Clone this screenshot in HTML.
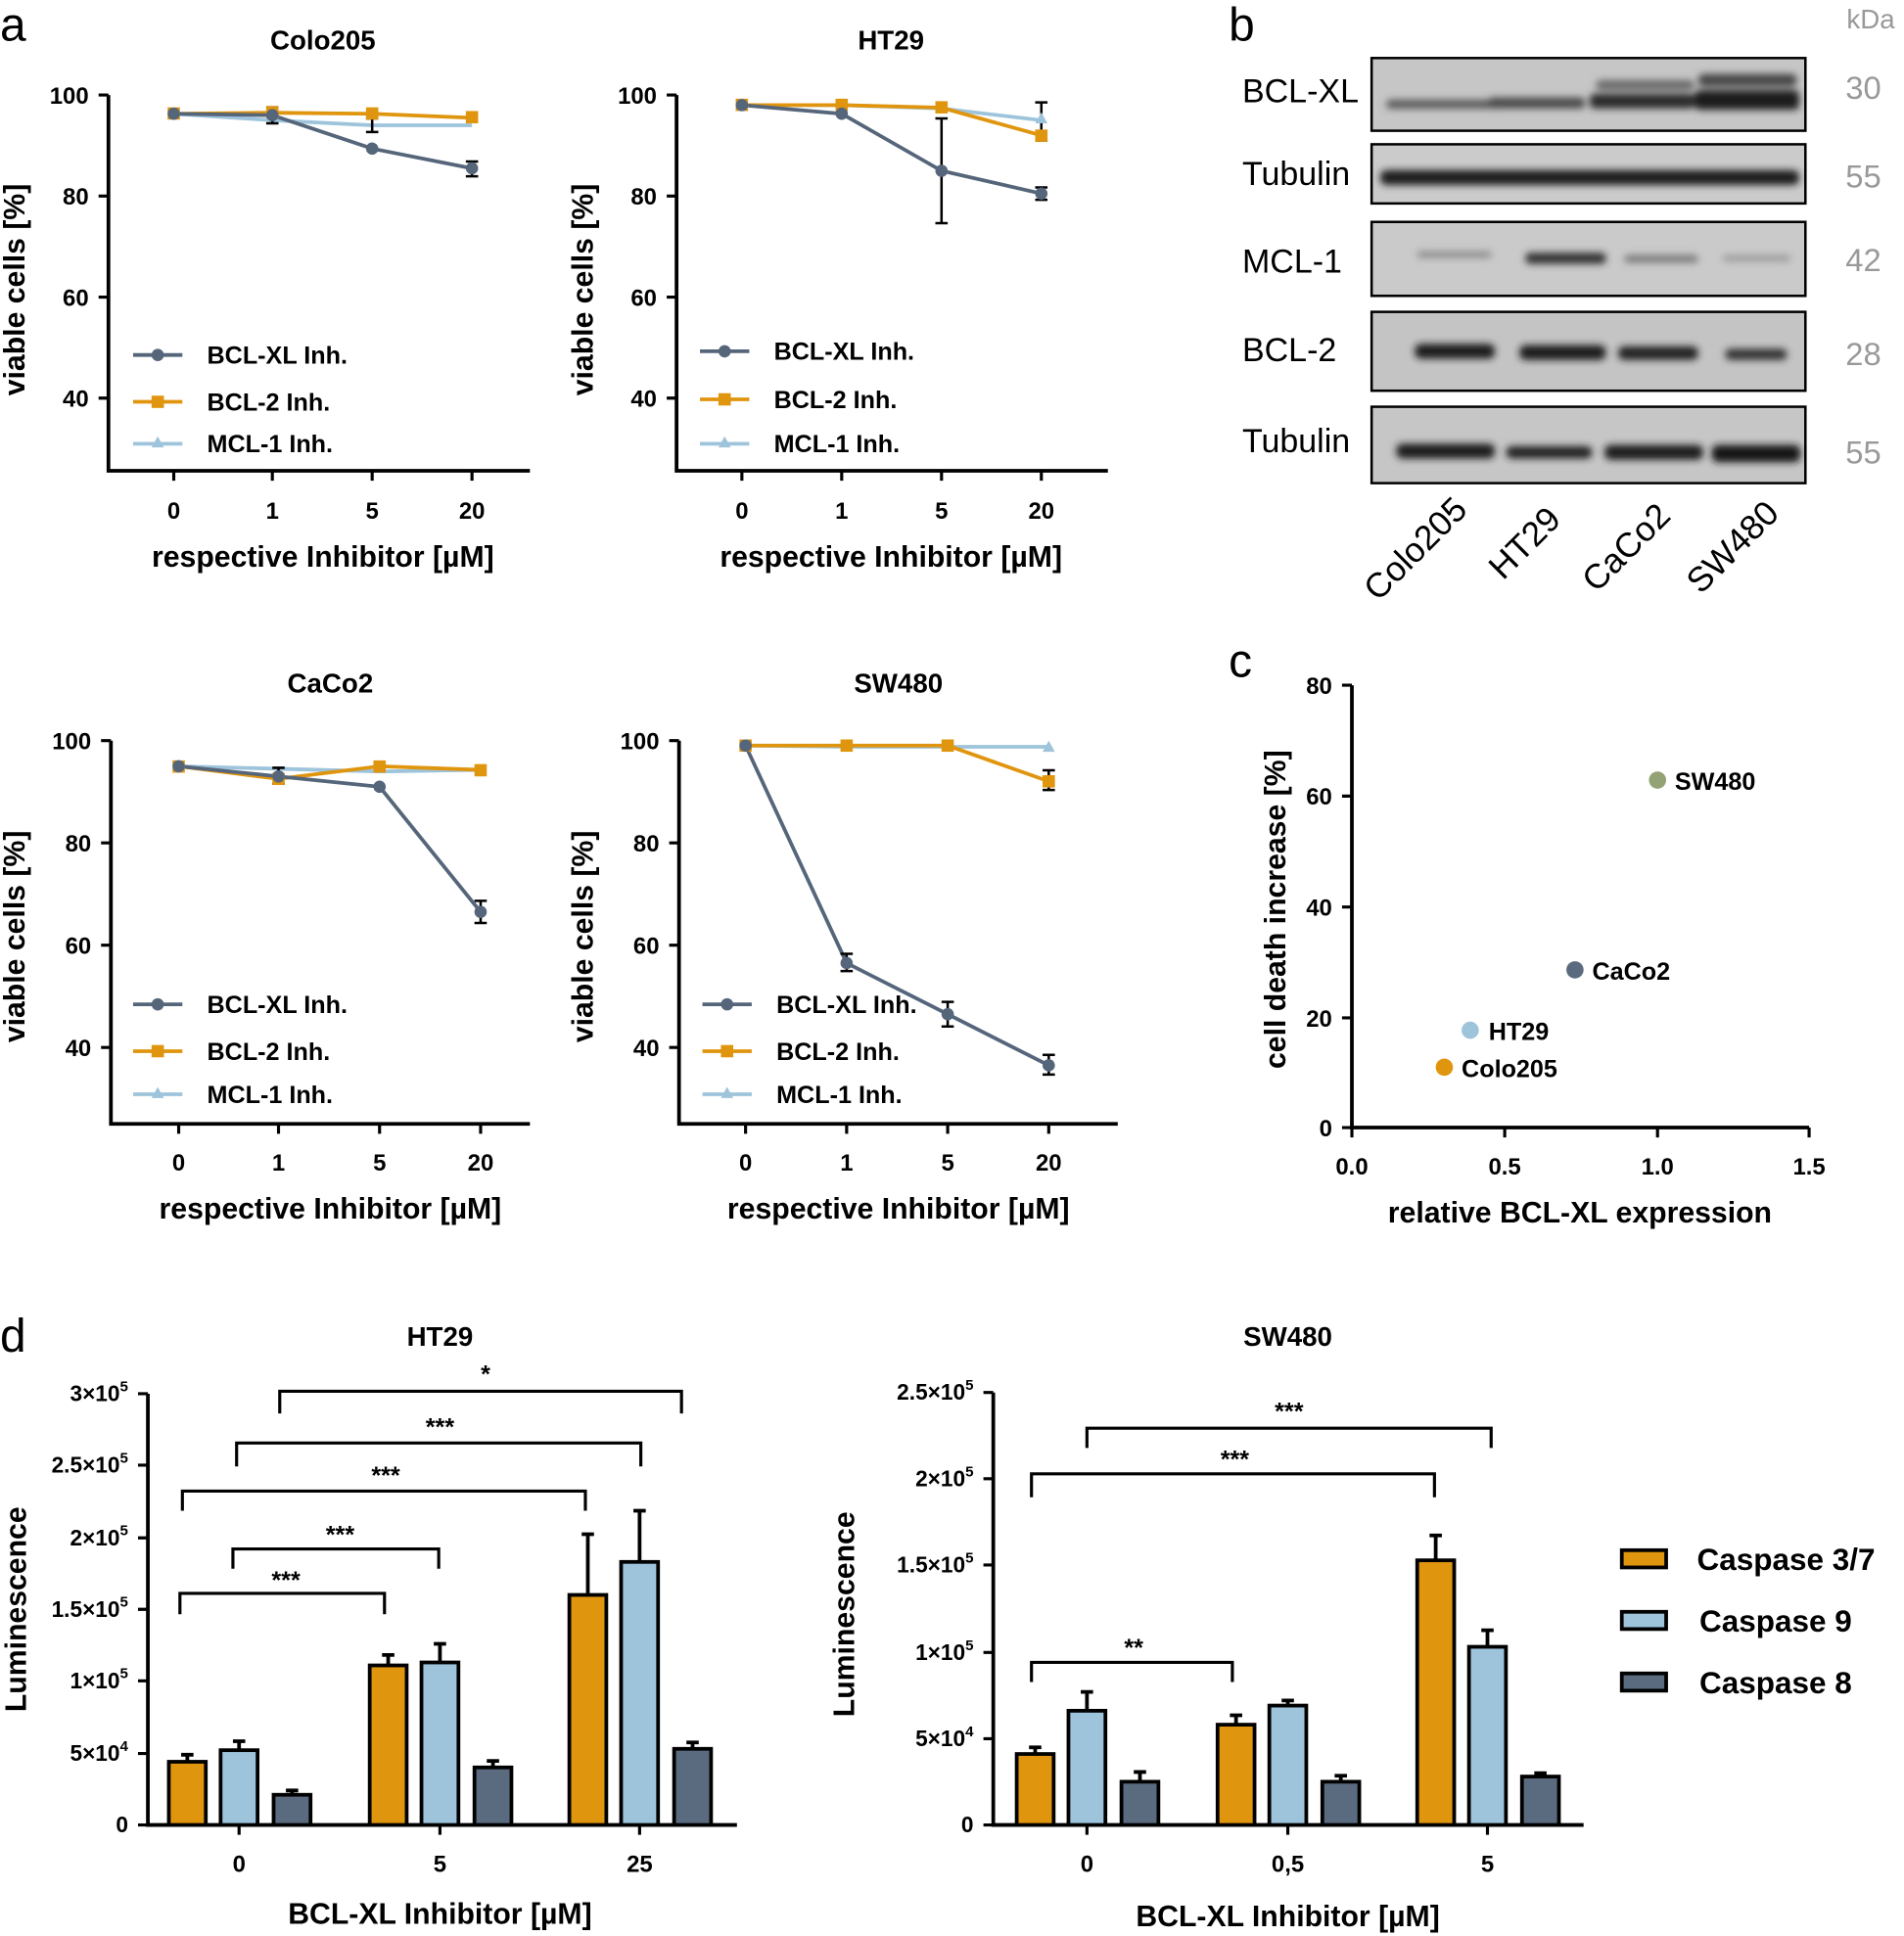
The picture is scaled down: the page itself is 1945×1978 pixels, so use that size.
<!DOCTYPE html>
<html><head><meta charset="utf-8"><style>
html,body{margin:0;padding:0;background:#fff}
svg{display:block}
text{font-family:"Liberation Sans",Arial,sans-serif}
.b{font-weight:bold}
</style></head><body>
<svg width="1945" height="1978" viewBox="0 0 1545 1571" xmlns="http://www.w3.org/2000/svg">
<defs>
<filter id="bl" x="-20%" y="-100%" width="140%" height="300%"><feGaussianBlur stdDeviation="3"/></filter>
</defs>
<g font-size="20" fill="#000">
<text x="0" y="33" font-size="38">a</text>
<text x="997" y="33" font-size="38">b</text>
<text x="997" y="549" font-size="38">c</text>
<text x="0" y="1097" font-size="38">d</text>
</g>

<!-- ========== Colo205 ========== -->
<g>
<text x="262" y="40" font-size="22" class="b" text-anchor="middle">Colo205</text>
<path d="M88 77V382H430" fill="none" stroke="#000" stroke-width="3"/>
<path d="M80 77H88M80 159H88M80 241H88M80 323H88M141 382v8M221 382v8M302 382v8M383 382v8" stroke="#000" stroke-width="2.5"/>
<g font-size="19" class="b" text-anchor="end"><text x="72" y="84">100</text><text x="72" y="166">80</text><text x="72" y="248">60</text><text x="72" y="330">40</text></g>
<g font-size="19" class="b" text-anchor="middle"><text x="141" y="421">0</text><text x="221" y="421">1</text><text x="302" y="421">5</text><text x="383" y="421">20</text></g>
<text x="262" y="460" font-size="24" class="b" text-anchor="middle">respective Inhibitor [µM]</text>
<text transform="translate(20,235) rotate(-90)" font-size="24" class="b" text-anchor="middle">viable cells [%]</text>
<polyline points="141,92.2 221,97.5 302,101.6 383,101.6" fill="none" stroke="#9ec4dc" stroke-width="3"/>
<polyline points="141,92.2 221,91.4 302,92.2 383,95.5" fill="none" stroke="#e0950f" stroke-width="3"/>
<polyline points="141,92.2 221,93.4 302,120.5 383,136.5" fill="none" stroke="#55657a" stroke-width="3"/>
<path d="M221 87v13M216 87h10M216 100h10M302 96v11M297 96h10M297 107h10M383 131v12M378 131h10M378 143h10" stroke="#000" stroke-width="2"/>
<g fill="#e0950f"><rect x="136" y="87" width="10" height="10"/><rect x="216" y="86" width="10" height="10"/><rect x="297" y="87" width="10" height="10"/><rect x="378" y="90" width="10" height="10"/></g>
<g fill="#55657a"><circle cx="141" cy="92.2" r="5"/><circle cx="221" cy="93.4" r="5"/><circle cx="302" cy="120.5" r="5"/><circle cx="383" cy="136.5" r="5"/></g>
<path d="M108 288h40" stroke-width="3" stroke="#55657a"/>
<path d="M108 326h40" stroke-width="3" stroke="#e0950f"/><path d="M108 360h40" stroke-width="3" stroke="#9ec4dc"/>
<circle cx="128" cy="288" r="5" fill="#55657a"/><rect x="123" y="321" width="10" height="10" fill="#e0950f"/><path d="M128 354l5 9h-10z" fill="#9ec4dc"/>
<g font-size="20" class="b"><text x="168" y="295">BCL-XL Inh.</text><text x="168" y="333">BCL-2 Inh.</text><text x="168" y="367">MCL-1 Inh.</text></g>
</g>

<!-- ========== HT29 ========== -->
<g>
<text x="723" y="40" font-size="22" class="b" text-anchor="middle">HT29</text>
<path d="M549 77V382H899" fill="none" stroke="#000" stroke-width="3"/>
<path d="M541 77H549M541 159H549M541 241H549M541 323H549M602 382v8M683 382v8M764 382v8M845 382v8" stroke="#000" stroke-width="2.5"/>
<g font-size="19" class="b" text-anchor="end"><text x="533" y="84">100</text><text x="533" y="166">80</text><text x="533" y="248">60</text><text x="533" y="330">40</text></g>
<g font-size="19" class="b" text-anchor="middle"><text x="602" y="421">0</text><text x="683" y="421">1</text><text x="764" y="421">5</text><text x="845" y="421">20</text></g>
<text x="723" y="460" font-size="24" class="b" text-anchor="middle">respective Inhibitor [µM]</text>
<text transform="translate(481,235) rotate(-90)" font-size="24" class="b" text-anchor="middle">viable cells [%]</text>
<polyline points="602,85.2 683,85.2 764,88 845,97.5" fill="none" stroke="#9ec4dc" stroke-width="3"/>
<polyline points="602,85.2 683,85.2 764,87.3 845,109.8" fill="none" stroke="#e0950f" stroke-width="3"/>
<polyline points="602,85.2 683,92.2 764,138.5 845,157" fill="none" stroke="#55657a" stroke-width="3"/>
<path d="M764 96v85M759 96h10M759 181h10M845 83v31M840 83h10M840 114h10M845 152v10M840 152h10M840 162h10" stroke="#000" stroke-width="2"/>
<g fill="#e0950f"><rect x="597" y="80" width="10" height="10"/><rect x="678" y="80" width="10" height="10"/><rect x="759" y="82" width="10" height="10"/><rect x="840" y="105" width="10" height="10"/></g>
<path d="M845 91l5 9h-10z" fill="#9ec4dc"/>
<g fill="#55657a"><circle cx="602" cy="85.2" r="5"/><circle cx="683" cy="92.2" r="5"/><circle cx="764" cy="138.5" r="5"/><circle cx="845" cy="157" r="5"/></g>
<path d="M568 285h40" stroke-width="3" stroke="#55657a"/><path d="M568 324h40" stroke-width="3" stroke="#e0950f"/><path d="M568 360h40" stroke-width="3" stroke="#9ec4dc"/>
<circle cx="588" cy="285" r="5" fill="#55657a"/><rect x="583" y="319" width="10" height="10" fill="#e0950f"/><path d="M588 354l5 9h-10z" fill="#9ec4dc"/>
<g font-size="20" class="b"><text x="628" y="292">BCL-XL Inh.</text><text x="628" y="331">BCL-2 Inh.</text><text x="628" y="367">MCL-1 Inh.</text></g>
</g>

<!-- ========== CaCo2 ========== -->
<g>
<text x="268" y="562" font-size="22" class="b" text-anchor="middle">CaCo2</text>
<path d="M90 601V912H430" fill="none" stroke="#000" stroke-width="3"/>
<path d="M82 601H90M82 684H90M82 767H90M82 850H90M145 912v8M226 912v8M308 912v8M390 912v8" stroke="#000" stroke-width="2.5"/>
<g font-size="19" class="b" text-anchor="end"><text x="74" y="608">100</text><text x="74" y="691">80</text><text x="74" y="774">60</text><text x="74" y="857">40</text></g>
<g font-size="19" class="b" text-anchor="middle"><text x="145" y="950">0</text><text x="226" y="950">1</text><text x="308" y="950">5</text><text x="390" y="950">20</text></g>
<text x="268" y="989" font-size="24" class="b" text-anchor="middle">respective Inhibitor [µM]</text>
<text transform="translate(20,760) rotate(-90)" font-size="24" class="b" text-anchor="middle">viable cells [%]</text>
<polyline points="145,621.8 226,623.8 308,626 390,624.7" fill="none" stroke="#9ec4dc" stroke-width="3"/>
<polyline points="145,621.8 226,632 308,621.8 390,624.7" fill="none" stroke="#e0950f" stroke-width="3"/>
<polyline points="145,621.8 226,630 308,638.4 390,740" fill="none" stroke="#55657a" stroke-width="3"/>
<path d="M226 623v13M221 623h10M221 636h10M390 731v18M385 731h10M385 749h10" stroke="#000" stroke-width="2"/>
<g fill="#e0950f"><rect x="140" y="617" width="10" height="10"/><rect x="221" y="627" width="10" height="10"/><rect x="303" y="617" width="10" height="10"/><rect x="385" y="620" width="10" height="10"/></g>
<g fill="#55657a"><circle cx="145" cy="621.8" r="5"/><circle cx="226" cy="630" r="5"/><circle cx="308" cy="638.4" r="5"/><circle cx="390" cy="740" r="5"/></g>
<path d="M108 815h40" stroke-width="3" stroke="#55657a"/><path d="M108 853h40" stroke-width="3" stroke="#e0950f"/><path d="M108 888h40" stroke-width="3" stroke="#9ec4dc"/>
<circle cx="128" cy="815" r="5" fill="#55657a"/><rect x="123" y="848" width="10" height="10" fill="#e0950f"/><path d="M128 882l5 9h-10z" fill="#9ec4dc"/>
<g font-size="20" class="b"><text x="168" y="822">BCL-XL Inh.</text><text x="168" y="860">BCL-2 Inh.</text><text x="168" y="895">MCL-1 Inh.</text></g>
</g>

<!-- ========== SW480 ========== -->
<g>
<text x="729" y="562" font-size="22" class="b" text-anchor="middle">SW480</text>
<path d="M551 601V912H907" fill="none" stroke="#000" stroke-width="3"/>
<path d="M543 601H551M543 684H551M543 767H551M543 850H551M605 912v8M687 912v8M769 912v8M851 912v8" stroke="#000" stroke-width="2.5"/>
<g font-size="19" class="b" text-anchor="end"><text x="535" y="608">100</text><text x="535" y="691">80</text><text x="535" y="774">60</text><text x="535" y="857">40</text></g>
<g font-size="19" class="b" text-anchor="middle"><text x="605" y="950">0</text><text x="687" y="950">1</text><text x="769" y="950">5</text><text x="851" y="950">20</text></g>
<text x="729" y="989" font-size="24" class="b" text-anchor="middle">respective Inhibitor [µM]</text>
<text transform="translate(481,760) rotate(-90)" font-size="24" class="b" text-anchor="middle">viable cells [%]</text>
<polyline points="605,605 687,606 769,606 851,606" fill="none" stroke="#9ec4dc" stroke-width="3"/>
<polyline points="605,605 687,605 769,605 851,634" fill="none" stroke="#e0950f" stroke-width="3"/>
<polyline points="605,605 687,781.5 769,823 851,864.5" fill="none" stroke="#55657a" stroke-width="3"/>
<path d="M687 774v14M682 774h10M682 788h10M769 813v20M764 813h10M764 833h10M851 856v16M846 856h10M846 872h10M851 625v16M846 625h10M846 641h10" stroke="#000" stroke-width="2"/>
<g fill="#e0950f"><rect x="600" y="600" width="10" height="10"/><rect x="682" y="600" width="10" height="10"/><rect x="764" y="600" width="10" height="10"/><rect x="846" y="629" width="10" height="10"/></g>
<path d="M851 601l5 9h-10z" fill="#9ec4dc"/>
<g fill="#55657a"><circle cx="605" cy="605" r="5"/><circle cx="687" cy="781.5" r="5"/><circle cx="769" cy="823" r="5"/><circle cx="851" cy="864.5" r="5"/></g>
<path d="M570 815h40" stroke-width="3" stroke="#55657a"/><path d="M570 853h40" stroke-width="3" stroke="#e0950f"/><path d="M570 888h40" stroke-width="3" stroke="#9ec4dc"/>
<circle cx="590" cy="815" r="5" fill="#55657a"/><rect x="585" y="848" width="10" height="10" fill="#e0950f"/><path d="M590 882l5 9h-10z" fill="#9ec4dc"/>
<g font-size="20" class="b"><text x="630" y="822">BCL-XL Inh.</text><text x="630" y="860">BCL-2 Inh.</text><text x="630" y="895">MCL-1 Inh.</text></g>
</g>

<!-- ========== Panel b blot ========== -->
<g>
<text x="1518" y="23" font-size="22" fill="#999" text-anchor="middle">kDa</text>
<g font-size="27" fill="#000"><text x="1008" y="83">BCL-XL</text><text x="1008" y="150">Tubulin</text><text x="1008" y="221">MCL-1</text><text x="1008" y="293">BCL-2</text><text x="1008" y="367">Tubulin</text></g>
<g font-size="26" fill="#999" text-anchor="middle"><text x="1512" y="80">30</text><text x="1512" y="152">55</text><text x="1512" y="220">42</text><text x="1512" y="296">28</text><text x="1512" y="376">55</text></g>
<g stroke="#000" stroke-width="2">
<rect x="1113" y="47" width="352" height="59" fill="#c6c6c6"/>
<rect x="1113" y="117" width="352" height="48" fill="#cbcbcb"/>
<rect x="1113" y="180" width="352" height="60" fill="#cacaca"/>
<rect x="1113" y="253" width="352" height="64" fill="#c4c4c4"/>
<rect x="1113" y="330" width="352" height="62" fill="#c6c6c6"/>
</g>
<g filter="url(#bl)">
<rect x="1125" y="81" width="92" height="7" rx="3" fill="#555"/>
<rect x="1208" y="79" width="78" height="9" rx="3" fill="#4a4a4a"/>
<rect x="1290" y="76" width="85" height="12" rx="4" fill="#2a2a2a"/>
<rect x="1295" y="65" width="80" height="8" rx="4" fill="#666"/>
<rect x="1375" y="73" width="85" height="16" rx="4" fill="#1c1c1c"/>
<rect x="1378" y="60" width="80" height="10" rx="4" fill="#444"/>
<rect x="1120" y="138" width="340" height="12" rx="5" fill="#1a1a1a"/>
<rect x="1150" y="204" width="60" height="5" rx="2" fill="#888"/>
<rect x="1238" y="205" width="65" height="9" rx="3" fill="#333"/>
<rect x="1318" y="207" width="60" height="6" rx="3" fill="#777"/>
<rect x="1398" y="207" width="55" height="5" rx="2" fill="#999"/>
<rect x="1148" y="279" width="65" height="12" rx="5" fill="#1a1a1a"/>
<rect x="1233" y="280" width="70" height="12" rx="5" fill="#1a1a1a"/>
<rect x="1313" y="281" width="65" height="11" rx="5" fill="#222"/>
<rect x="1400" y="283" width="50" height="9" rx="4" fill="#333"/>
<rect x="1133" y="360" width="80" height="12" rx="5" fill="#1e1e1e"/>
<rect x="1222" y="362" width="70" height="10" rx="5" fill="#222"/>
<rect x="1302" y="361" width="80" height="12" rx="5" fill="#1e1e1e"/>
<rect x="1389" y="361" width="72" height="14" rx="5" fill="#151515"/>
</g>
<g font-size="28" fill="#000" text-anchor="end">
<text transform="translate(1192,415) rotate(-45)">Colo205</text>
<text transform="translate(1268,423) rotate(-45)">HT29</text>
<text transform="translate(1357,420) rotate(-45)">CaCo2</text>
<text transform="translate(1445,418) rotate(-45)">SW480</text>
</g>
</g>

<!-- ========== Panel c ========== -->
<g>
<path d="M1097 556V915H1468" fill="none" stroke="#000" stroke-width="3"/>
<path d="M1089 556h8M1089 646h8M1089 736h8M1089 826h8M1089 915h8M1097 915v8M1221 915v8M1345 915v8M1468 915v8" stroke="#000" stroke-width="2.5"/>
<g font-size="19" class="b" text-anchor="end"><text x="1081" y="563">80</text><text x="1081" y="653">60</text><text x="1081" y="743">40</text><text x="1081" y="833">20</text><text x="1081" y="922">0</text></g>
<g font-size="19" class="b" text-anchor="middle"><text x="1097" y="953">0.0</text><text x="1221" y="953">0.5</text><text x="1345" y="953">1.0</text><text x="1468" y="953">1.5</text></g>
<text x="1282" y="992" font-size="24" class="b" text-anchor="middle">relative BCL-XL expression</text>
<text transform="translate(1043,738) rotate(-90)" font-size="24" class="b" text-anchor="middle">cell death increase [%]</text>
<circle cx="1345" cy="633" r="7" fill="#93a373"/><circle cx="1278" cy="787" r="7" fill="#5a6b80"/><circle cx="1193" cy="836" r="7" fill="#9ec4dc"/><circle cx="1172" cy="866" r="7" fill="#e0950f"/>
<g font-size="20" class="b"><text x="1359" y="641">SW480</text><text x="1292" y="795">CaCo2</text><text x="1208" y="844">HT29</text><text x="1186" y="874">Colo205</text></g>
</g>

<!-- ========== Panel d HT29 ========== -->
<g>
<text x="357" y="1092" font-size="22" class="b" text-anchor="middle">HT29</text>
<path d="M120 1131V1481H598" fill="none" stroke="#000" stroke-width="3"/>
<path d="M112 1131h8M112 1189h8M112 1248h8M112 1306h8M112 1364h8M112 1423h8M112 1481h8M194 1481v8M357 1481v8M519 1481v8" stroke="#000" stroke-width="2.5"/>
<g font-size="18" class="b" text-anchor="end">
<text x="104" y="1137">3×10<tspan font-size="12" dy="-8">5</tspan></text>
<text x="104" y="1195">2.5×10<tspan font-size="12" dy="-8">5</tspan></text>
<text x="104" y="1254">2×10<tspan font-size="12" dy="-8">5</tspan></text>
<text x="104" y="1312">1.5×10<tspan font-size="12" dy="-8">5</tspan></text>
<text x="104" y="1370">1×10<tspan font-size="12" dy="-8">5</tspan></text>
<text x="104" y="1429">5×10<tspan font-size="12" dy="-8">4</tspan></text>
<text x="104" y="1487">0</text></g>
<g font-size="19" class="b" text-anchor="middle"><text x="194" y="1519">0</text><text x="357" y="1519">5</text><text x="519" y="1519">25</text></g>
<text x="357" y="1561" font-size="24" class="b" text-anchor="middle">BCL-XL Inhibitor [µM]</text>
<text transform="translate(21,1306) rotate(-90)" font-size="24" class="b" text-anchor="middle">Luminescence</text>
<g stroke="#000" stroke-width="3">
<path d="M152 1430v-6M147 1424h10M194 1420v-7M189 1413h10M237 1456v-3M232 1453h10M315 1351v-8M310 1343h10M357 1349v-15M352 1334h10M400 1434v-5M395 1429h10M477 1294v-49M472 1245h10M519 1267v-41M514 1226h10M562 1419v-5M557 1414h10" fill="none"/>
<rect x="137" y="1429.7" width="30" height="51.3" fill="#e0950f"/><rect x="179" y="1420.3" width="30" height="60.7" fill="#9ec4dc"/><rect x="222" y="1456.5" width="30" height="24.5" fill="#5a6b80"/>
<rect x="300" y="1351.5" width="30" height="129.5" fill="#e0950f"/><rect x="342" y="1349.1" width="30" height="131.9" fill="#9ec4dc"/><rect x="385" y="1434.3" width="30" height="46.7" fill="#5a6b80"/>
<rect x="462" y="1294.3" width="30" height="186.7" fill="#e0950f"/><rect x="504" y="1267.5" width="30" height="213.5" fill="#9ec4dc"/><rect x="547" y="1419.2" width="30" height="61.8" fill="#5a6b80"/>
</g>
<g stroke="#000" stroke-width="2.5" fill="none">
<path d="M227 1147v-18h326v18"/><path d="M192 1190v-19h328v19"/><path d="M148 1226v-16h327v16"/><path d="M189 1273v-16h167v16"/><path d="M146 1310v-17h166v17"/>
</g>
<g font-size="20" class="b" text-anchor="middle"><text x="394" y="1122">*</text><text x="357" y="1165">***</text><text x="313" y="1204">***</text><text x="276" y="1252">***</text><text x="232" y="1289">***</text></g>
</g>

<!-- ========== Panel d SW480 ========== -->
<g>
<text x="1045" y="1092" font-size="22" class="b" text-anchor="middle">SW480</text>
<path d="M806 1130V1481H1285" fill="none" stroke="#000" stroke-width="3"/>
<path d="M798 1130h8M798 1200h8M798 1270h8M798 1341h8M798 1411h8M798 1481h8M882 1481v8M1045 1481v8M1207 1481v8" stroke="#000" stroke-width="2.5"/>
<g font-size="18" class="b" text-anchor="end">
<text x="790" y="1136">2.5×10<tspan font-size="12" dy="-8">5</tspan></text>
<text x="790" y="1206">2×10<tspan font-size="12" dy="-8">5</tspan></text>
<text x="790" y="1276">1.5×10<tspan font-size="12" dy="-8">5</tspan></text>
<text x="790" y="1347">1×10<tspan font-size="12" dy="-8">5</tspan></text>
<text x="790" y="1417">5×10<tspan font-size="12" dy="-8">4</tspan></text>
<text x="790" y="1487">0</text></g>
<g font-size="19" class="b" text-anchor="middle"><text x="882" y="1519">0</text><text x="1045" y="1519">0,5</text><text x="1207" y="1519">5</text></g>
<text x="1045" y="1563" font-size="24" class="b" text-anchor="middle">BCL-XL Inhibitor [µM]</text>
<text transform="translate(693,1310) rotate(-90)" font-size="24" class="b" text-anchor="middle">Luminescence</text>
<g stroke="#000" stroke-width="3">
<path d="M840 1423v-5M835 1418h10M882 1388v-15M877 1373h10M925 1446v-8M920 1438h10M1003 1400v-8M998 1392h10M1045 1384v-4M1040 1380h10M1088 1446v-5M1083 1441h10M1165 1266v-20M1160 1246h10M1207 1336v-13M1202 1323h10M1250 1442v-3M1245 1439h10" fill="none"/>
<rect x="825" y="1423.4" width="30" height="57.6" fill="#e0950f"/><rect x="867" y="1388.3" width="30" height="92.7" fill="#9ec4dc"/><rect x="910" y="1445.9" width="30" height="35.1" fill="#5a6b80"/>
<rect x="988" y="1399.6" width="30" height="81.4" fill="#e0950f"/><rect x="1030" y="1384.1" width="30" height="96.9" fill="#9ec4dc"/><rect x="1073" y="1445.9" width="30" height="35.1" fill="#5a6b80"/>
<rect x="1150" y="1266.2" width="30" height="214.8" fill="#e0950f"/><rect x="1192" y="1336.4" width="30" height="144.6" fill="#9ec4dc"/><rect x="1235" y="1441.7" width="30" height="39.3" fill="#5a6b80"/>
</g>
<g stroke="#000" stroke-width="2.5" fill="none">
<path d="M882 1175v-16h328v16"/><path d="M837 1215v-19h327v19"/><path d="M837 1365v-16h163v16"/>
</g>
<g font-size="20" class="b" text-anchor="middle"><text x="1046" y="1152">***</text><text x="1002" y="1191">***</text><text x="920" y="1344">**</text></g>
<g stroke="#000" stroke-width="3">
<rect x="1316" y="1258" width="36" height="14" fill="#e0950f"/><rect x="1316" y="1308" width="36" height="14" fill="#9ec4dc"/><rect x="1316" y="1358" width="36" height="14" fill="#5a6b80"/>
</g>
<g font-size="25" class="b"><text x="1377" y="1274">Caspase 3/7</text><text x="1379" y="1324">Caspase 9</text><text x="1379" y="1374">Caspase 8</text></g>
</g>
</svg>
</body></html>
